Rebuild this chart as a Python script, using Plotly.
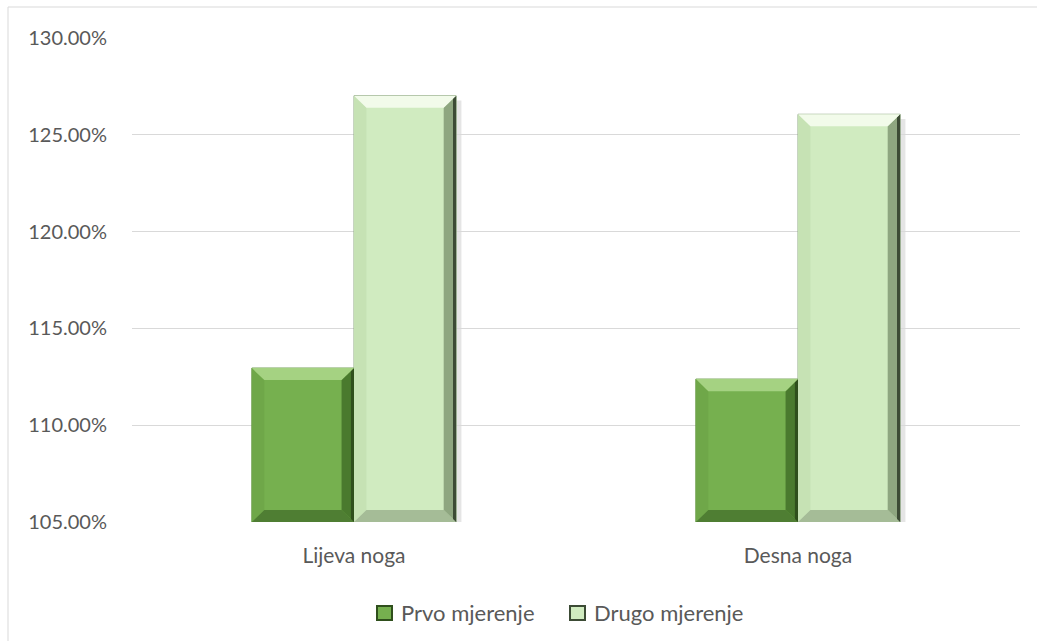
import plotly.graph_objects as go

# Data (values in percent)
categories = ["Lijeva noga", "Desna noga"]
prvo_mjerenje = [112.95, 112.38]
drugo_mjerenje = [127.02, 126.06]
series_names = ["Prvo mjerenje", "Drugo mjerenje"]
y_ticks = [105, 110, 115, 120, 125, 130]

BASE = 105
BAR_W = 0.23
FONT = "Lato"
TXT = "#595959"

# plot area in pixels (used for placing legend items and frame)
L, R, T, B = 132, 1020, 38, 522
W_PX, H_PX = R - L, B - T


def px_x(p):
    return (p - L) / W_PX


def px_y(p):
    return (B - p) / H_PX


styles = [
    dict(face="#76B04F", top="#A5D282", right="#4A7A2E", edge="#2F4F1C", bottom="#4F7E33",
         left="#6FA749", line="#5E913C"),
    dict(face="#D0EBC0", top="#F2FBEA", right="#8EA680", edge="#3C4B35", bottom="#A5BC97",
         left="#C6E2B4", line="#8FA883"),
]
series_vals = [prvo_mjerenje, drugo_mjerenje]

fig = go.Figure()
x_idx = list(range(len(categories)))
for vals, name, st in zip(series_vals, series_names, styles):
    fig.add_trace(go.Bar(
        x=x_idx, y=[v - BASE for v in vals], base=BASE, name=name,
        width=BAR_W, marker=dict(color=st["face"], line=dict(color=st["line"], width=1)),
        showlegend=False,
    ))

# Bevel facets and soft shadow for each bar
dx, dy = 0.028, 0.62
shapes = []
for si, (vals, st) in enumerate(zip(series_vals, styles)):
    off = (-0.5 + si) * BAR_W
    for i, v in enumerate(vals):
        x0 = i + off - BAR_W / 2
        x1 = i + off + BAR_W / 2
        t, b = v, BASE
        shapes.append(dict(type="rect", xref="x", yref="y", x0=x1, x1=x1 + 0.012,
                           y0=b, y1=t - 0.25, fillcolor="rgba(0,0,0,0.10)",
                           line=dict(width=0), layer="below"))
        polys = [
            (st["left"], [(x0, t), (x0 + dx, t - dy), (x0 + dx, b + dy), (x0, b)]),
            (st["bottom"], [(x0, b), (x0 + dx, b + dy), (x1 - dx, b + dy), (x1, b)]),
            (st["right"], [(x1, t), (x1, b), (x1 - dx, b + dy), (x1 - dx, t - dy)]),
            (st["edge"], [(x1, t), (x1, b), (x1 - 0.007, b + 0.15), (x1 - 0.007, t - 0.15)]),
            (st["top"], [(x0, t), (x1, t), (x1 - dx, t - dy), (x0 + dx, t - dy)]),
        ]
        for col, pts in polys:
            path = "M " + " L ".join(f"{px},{py}" for px, py in pts) + " Z"
            shapes.append(dict(type="path", path=path, xref="x", yref="y",
                               fillcolor=col, line=dict(width=0), layer="above"))

# outer chart frame (left and top edges visible)
shapes.append(dict(type="rect", xref="paper", yref="paper",
                   x0=px_x(8), x1=px_x(1060), y0=px_y(660), y1=px_y(7),
                   line=dict(color="#D9D9D9", width=1), fillcolor="rgba(0,0,0,0)", layer="below"))

# legend: icon squares and labels
legend_items = [(377, 399), (570, 592)]
annotations = []
for (ix, tx), name, st in zip(legend_items, series_names, styles):
    shapes.append(dict(type="rect", xref="paper", yref="paper",
                       x0=px_x(ix), x1=px_x(ix + 15), y0=px_y(620), y1=px_y(606),
                       fillcolor=st["face"], line=dict(color=st["edge"], width=2)))
    annotations.append(dict(text=name, xref="paper", yref="paper", x=px_x(tx), y=px_y(612),
                            xanchor="left", yanchor="middle", showarrow=False,
                            font=dict(family=FONT, size=22, color=TXT)))

fig.update_layout(
    width=1037, height=641,
    margin=dict(l=L, r=1037 - R, t=T, b=641 - B),
    paper_bgcolor="white", plot_bgcolor="white",
    barmode="group", bargap=0.54,
    font=dict(family=FONT, size=21, color=TXT),
    showlegend=False,
    shapes=shapes,
    annotations=annotations,
)
fig.update_xaxes(range=[-0.5, 1.5], tickvals=x_idx, ticktext=categories,
                 showgrid=False, zeroline=False, showline=False,
                 ticks="", ticklabelstandoff=19, tickfont=dict(family=FONT, size=21, color=TXT))
fig.update_yaxes(range=[BASE, 130], tickvals=y_ticks,
                 ticktext=[f"{t:.2f}%" for t in y_ticks],
                 showgrid=True, gridcolor="#D9D9D9", gridwidth=1,
                 zeroline=False, showline=False, ticks="", ticklabelstandoff=24,
                 tickfont=dict(family=FONT, size=20, color=TXT))

fig.write_html("out.html")
